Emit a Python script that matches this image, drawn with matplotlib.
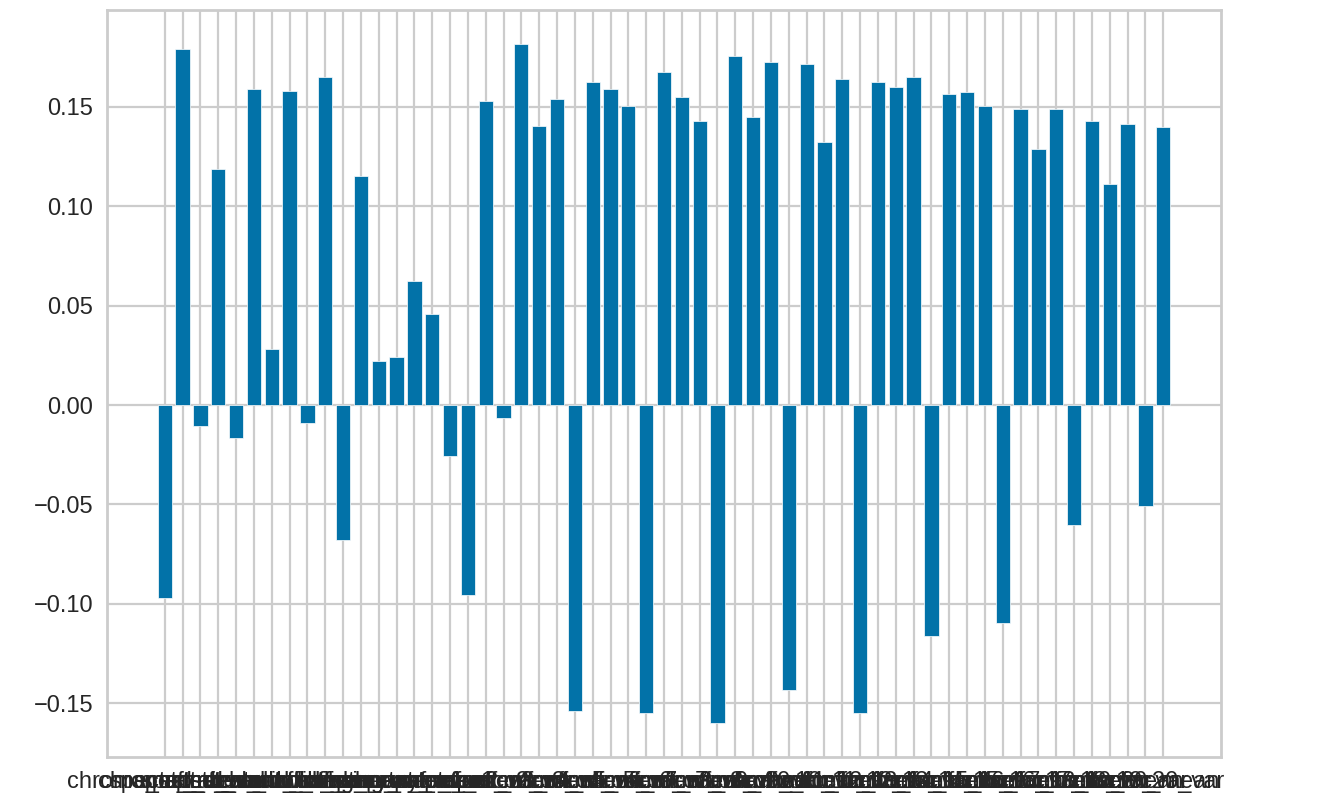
import numpy as np
import matplotlib
matplotlib.use("Agg")
import matplotlib.pyplot as plt

plt.style.use("seaborn-v0_8-whitegrid")
plt.rcParams["font.family"] = ["Liberation Sans", "DejaVu Sans"]

# feature names (GTZAN audio features)
base_features = [
    "chroma_stft_mean", "chroma_stft_var", "rms_mean", "rms_var",
    "spectral_centroid_mean", "spectral_centroid_var",
    "spectral_bandwidth_mean", "spectral_bandwidth_var",
    "rolloff_mean", "rolloff_var",
    "zero_crossing_rate_mean", "zero_crossing_rate_var",
    "harmony_mean", "harmony_var", "perceptr_mean", "perceptr_var", "tempo",
]
mfcc_features = []
for k in range(1, 21):
    mfcc_features += [f"mfcc{k}_mean", f"mfcc{k}_var"]
features = base_features + mfcc_features

# values
values = [
    -0.0973, 0.179, -0.0104, 0.119, -0.0166, 0.159, 0.0282, 0.1579,
    -0.0091, 0.1652, -0.0681, 0.1151, 0.0220, 0.0243, 0.0622, 0.0458,
    -0.0254, -0.0958, 0.1528, -0.0065, 0.1817, 0.1403,
    0.154, -0.1538, 0.1627, 0.159, 0.1503, -0.155, 0.1678, 0.1552,
    0.1428, -0.160, 0.1755, 0.1451, 0.1728, -0.1436, 0.1716, 0.1325,
    0.1641, -0.155, 0.1627, 0.1602, 0.1652, -0.1161, 0.1565, 0.1577,
    0.1503, -0.1096, 0.149, 0.129, 0.149, -0.0606, 0.1428, 0.1112,
    0.1414, -0.0507, 0.1401,
]

fig = plt.figure(figsize=(13.27, 8.10), dpi=100)
ax = fig.add_axes([107 / 1327, 1 - 757 / 810, (1221 - 107) / 1327, (757 - 10) / 810])

ax.bar(features, values, color="#0272a8", edgecolor="white", linewidth=0.5)

ax.grid(True, color="#cccccc", linewidth=1.6)
ax.set_axisbelow(True)
for spine in ax.spines.values():
    spine.set_color("#cccccc")
    spine.set_linewidth(2.0)
ax.tick_params(axis="both", length=0, labelsize=17, colors="#262626", pad=10)

plt.savefig("out.png", dpi=100)
